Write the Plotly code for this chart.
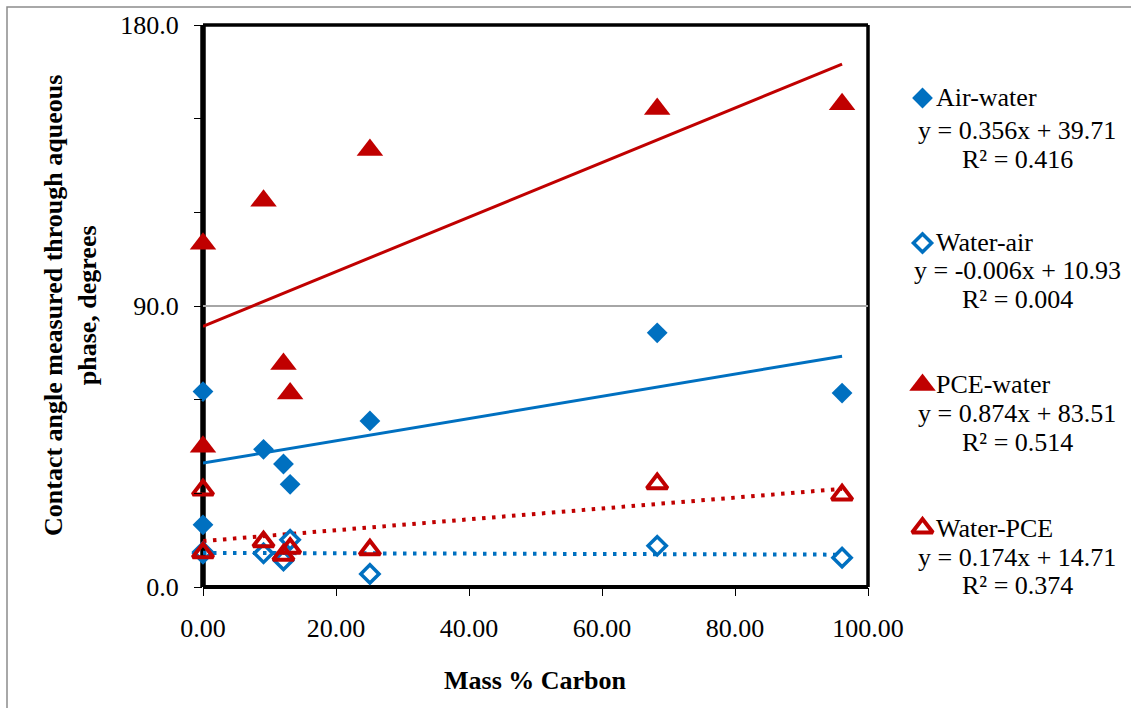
import plotly.graph_objects as go

# Mass % carbon of each sample (shared by all four contact-angle series)
carbon = [0.0, 0.0, 9.1, 12.1, 13.1, 25.1, 68.3, 96.1]

# Contact angles measured through the aqueous phase, degrees
air_water = [62.6, 19.9, 44.1, 39.4, 32.9, 53.2, 81.4, 62.1]
water_air = [11.2, 10.8, 10.8, 8.5, 15.1, 4.2, 13.2, 9.4]
pce_water = [109.9, 44.9, 123.7, 71.4, 62.0, 140.0, 153.1, 154.6]
water_pce = [31.1, 11.0, 14.5, 10.2, 12.4, 11.9, 33.1, 29.5]

series_names = ["Air-water", "Water-air", "PCE-water", "Water-PCE"]
slopes = [0.356, -0.006, 0.874, 0.174]
intercepts = [39.71, 10.93, 83.51, 14.71]
r_squared = [0.416, 0.004, 0.514, 0.374]

x_ticks = [0, 20, 40, 60, 80, 100]

BLUE = "#0070C0"
RED = "#C00000"
FONT = "Liberation Serif"

W, H = 1131, 708
L, R, T, B = 203, 868, 25, 587          # plot area in pixels
X_MAX, Y_MAX = 100.0, 180.0
PAPER_W = W - L                          # paper runs from the plot's left edge to the page edge


def px_to_paper(px, py):
    return (px - L) / PAPER_W, (B - py) / (B - T)


styles = [
    dict(symbol="diamond", size=16, color=BLUE, line=dict(width=0)),
    dict(symbol="diamond-open", size=14, color=BLUE, line=dict(width=3.5, color=BLUE)),
    dict(symbol="triangle-up", size=23, color=RED, line=dict(width=0)),
    dict(symbol="triangle-up-open", size=18, color=RED, line=dict(width=4, color=RED)),
]
trend_lines = [
    dict(color=BLUE, width=3),
    dict(color=BLUE, width=4, dash="3.5px,6.5px"),
    dict(color=RED, width=3),
    dict(color=RED, width=4, dash="3.5px,6.5px"),
]
values = [air_water, water_air, pce_water, water_pce]

fig = go.Figure()

# Linear trendlines from the fitted equations, spanning the sampled carbon range
x0, x1 = min(carbon), max(carbon)
for m, b, ln in zip(slopes, intercepts, trend_lines):
    fig.add_trace(go.Scatter(
        x=[x0, x1], y=[m * x0 + b, m * x1 + b], mode="lines",
        line=ln, showlegend=False, hoverinfo="skip", cliponaxis=False))

# Measured points
for name, ys, st in zip(series_names, values, styles):
    fig.add_trace(go.Scatter(
        x=carbon, y=ys, mode="markers", name=name,
        marker=st, showlegend=False, cliponaxis=False))

# Legend keys live on a small hidden subplot whose axes are in pixel units
legend_rows = [98, 243, 385, 528]
eq_rows = [131, 270, 413, 557]
r2_rows = [160, 299, 443, 585]
key_x = 922.5
KEY_X0, KEY_X1 = 900, 945
for i in range(len(series_names)):
    fig.add_trace(go.Scatter(
        x=[key_x], y=[legend_rows[i]], xaxis="x2", yaxis="y2",
        mode="markers", marker=styles[i], cliponaxis=False,
        showlegend=False, hoverinfo="skip"))

annotations = []
for i, name in enumerate(series_names):
    nx, ny = px_to_paper(934, legend_rows[i])
    annotations.append(dict(
        text=name, x=nx, y=ny, xref="paper", yref="paper",
        xanchor="left", yanchor="middle", showarrow=False,
        font=dict(family=FONT, size=26, color="black")))
    sign = "-" if slopes[i] < 0 else ""
    eq = f"y = {sign}{abs(slopes[i]):.3f}x + {intercepts[i]:.2f}"
    ex, ey = px_to_paper(1017, eq_rows[i])
    annotations.append(dict(
        text=eq, x=ex, y=ey, xref="paper", yref="paper",
        xanchor="center", yanchor="middle", showarrow=False,
        font=dict(family=FONT, size=26, color="black")))
    rx, ry = px_to_paper(1017, r2_rows[i])
    annotations.append(dict(
        text=f"R² = {r_squared[i]:.3f}", x=rx, y=ry, xref="paper", yref="paper",
        xanchor="center", yanchor="middle", showarrow=False,
        font=dict(family=FONT, size=26, color="black")))

# Axis titles
tx, ty = px_to_paper(70, 306)
annotations.append(dict(
    text="<b>Contact angle measured through aqueous<br>phase, degrees</b>",
    x=tx, y=ty, xref="paper", yref="paper", textangle=-90,
    xanchor="center", yanchor="middle", showarrow=False,
    font=dict(family=FONT, size=26, color="black")))
mx, my = px_to_paper(535, 680)
annotations.append(dict(
    text="<b>Mass % Carbon</b>", x=mx, y=my, xref="paper", yref="paper",
    xanchor="center", yanchor="middle", showarrow=False,
    font=dict(family=FONT, size=26, color="black")))

# Chart frame and plot-area box
ox0, oy0 = px_to_paper(7, 7)
ox1, oy1 = px_to_paper(1140, 716)
bx0, by0 = px_to_paper(L, B)
bx1, by1 = px_to_paper(R, T)
shapes = [
    dict(type="rect", xref="paper", yref="paper", x0=ox0, y0=oy1, x1=ox1, y1=oy0,
         line=dict(color="#8C8C8C", width=1.5), layer="below"),
    dict(type="line", xref="paper", yref="paper", x0=bx0, x1=bx1, y0=by1, y1=by1,
         line=dict(color="black", width=3.5), layer="between"),
    dict(type="line", xref="paper", yref="paper", x0=bx1, x1=bx1, y0=by0, y1=by1,
         line=dict(color="black", width=3.5), layer="between"),
    dict(type="line", xref="paper", yref="paper", x0=bx0, x1=bx1, y0=by0, y1=by0,
         line=dict(color="black", width=4), layer="between"),
    dict(type="line", xref="paper", yref="paper", x0=bx0, x1=bx0, y0=by0, y1=by1,
         line=dict(color="black", width=5.5), layer="between"),
]

plot_frac = (R - L) / PAPER_W
fig.update_layout(
    width=W, height=H,
    margin=dict(l=L, r=0, t=T, b=H - B, pad=0, autoexpand=False),
    paper_bgcolor="white", plot_bgcolor="white",
    showlegend=False,
    annotations=annotations, shapes=shapes,
    xaxis=dict(
        domain=[0, plot_frac],
        range=[0, X_MAX], tickvals=x_ticks, tickformat=".2f",
        showgrid=False, zeroline=False, showline=False,
        ticks="outside", ticklen=8, tickwidth=1.2, tickcolor="black",
        ticklabelstandoff=10,
        tickfont=dict(family=FONT, size=26, color="black")),
    yaxis=dict(
        range=[0, Y_MAX], dtick=90, tick0=0, tickformat=".1f",
        showgrid=True, gridcolor="#A6A6A6", gridwidth=1.5,
        zeroline=False, showline=False,
        ticks="outside", ticklen=8, tickwidth=1.2, tickcolor="black",
        ticklabelstandoff=10,
        minor=dict(dtick=30, ticks="outside", ticklen=8, tickwidth=1.2,
                   tickcolor="black", showgrid=False),
        tickfont=dict(family=FONT, size=26, color="black")),
    xaxis2=dict(
        domain=[(KEY_X0 - L) / PAPER_W, (KEY_X1 - L) / PAPER_W],
        range=[KEY_X0, KEY_X1], anchor="y2", visible=False, fixedrange=True),
    yaxis2=dict(
        domain=[0, 1], range=[B, T], anchor="x2", visible=False, fixedrange=True),
)

fig.write_html("out.html")
